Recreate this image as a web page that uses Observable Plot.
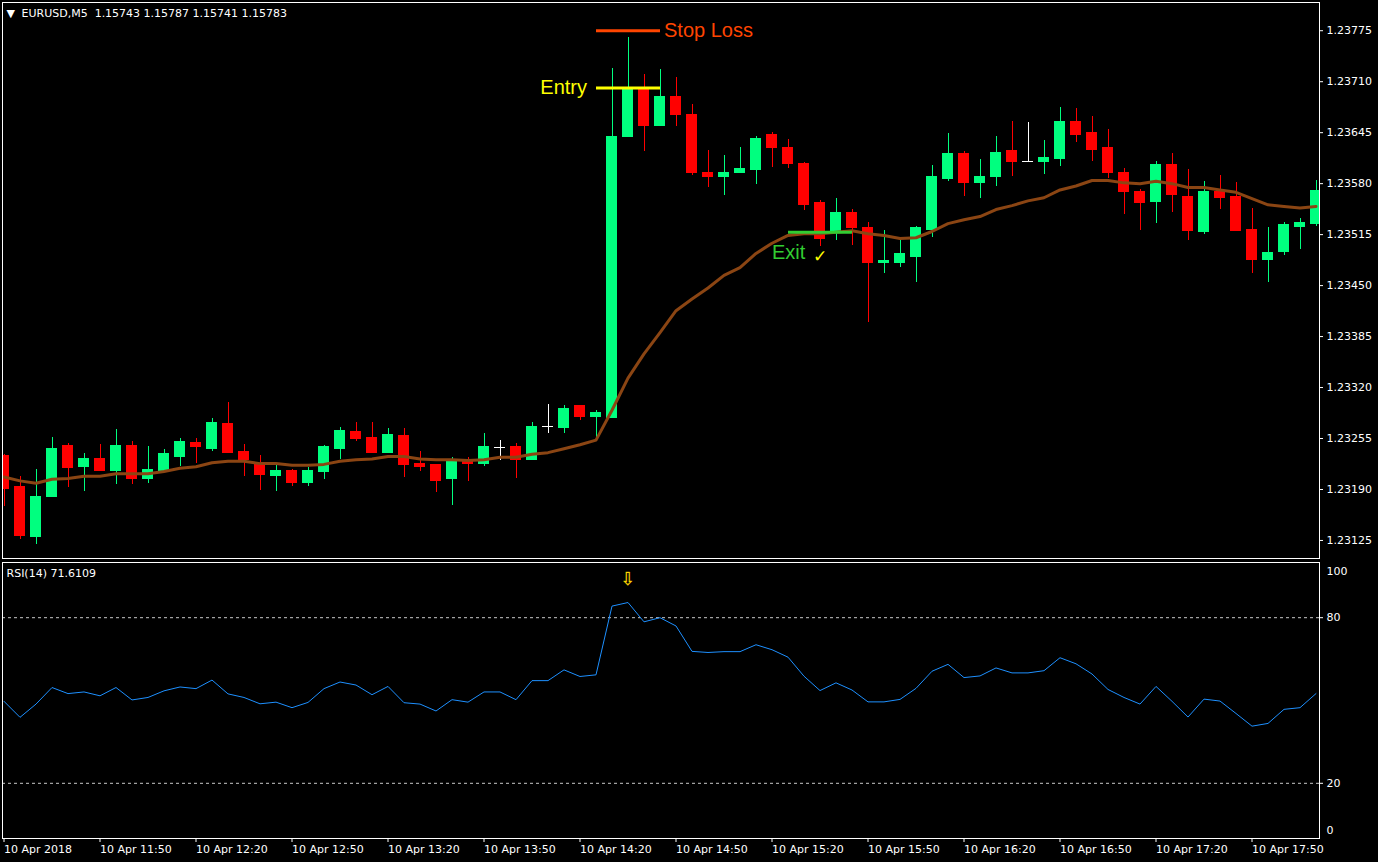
<!DOCTYPE html>
<html><head><meta charset="utf-8">
<script src="https://cdn.jsdelivr.net/npm/d3@7"></script>
<script src="https://cdn.jsdelivr.net/npm/@observablehq/plot@0.6"></script>
<style>
html,body{margin:0;padding:0;background:#000;}
#chart{width:1378px;height:862px;overflow:hidden;background:#000}
#chart svg{display:block}
</style></head><body><div id="chart"></div>
<script>
// ---- data (EURUSD M5, 10 Apr 2018, 11:20 - 18:10) ----
const open = [
1.23233,1.23193,1.23130,1.23180,1.23245,1.23219,1.23229,1.23214,1.23245,1.23204,
1.23214,1.23232,1.23249,1.23242,1.23274,1.23238,1.23223,1.23207,1.23214,1.23198,
1.23212,1.23242,1.23263,1.23256,1.23237,1.23258,1.23222,1.23221,1.23203,1.23228,
1.23222,1.23243,1.23244,1.23228,1.23270,1.23269,1.23296,1.23283,1.23281,1.23640,
1.23700,1.23654,1.23690,1.23668,1.23594,1.23589,1.23593,1.23598,1.23642,1.23626,
1.23605,1.23555,1.23520,1.23543,1.23523,1.23479,1.23479,1.23487,1.23521,1.23586,
1.23618,1.23581,1.23589,1.23621,1.23608,1.23608,1.23611,1.23659,1.23644,1.23625,
1.23593,1.23569,1.23556,1.23604,1.23563,1.23518,1.23569,1.23563,1.23521,1.23483,
1.23493,1.23525,1.23529];
const high = [
1.23235,1.23207,1.23215,1.23256,1.23249,1.23236,1.23247,1.23267,1.23251,1.23245,
1.23241,1.23255,1.23255,1.23281,1.23301,1.23247,1.23233,1.23221,1.23215,1.23218,
1.23246,1.23269,1.23275,1.23275,1.23268,1.23268,1.23238,1.23221,1.23231,1.23231,
1.23261,1.23253,1.23249,1.23275,1.23298,1.23297,1.23297,1.23291,1.23727,1.23767,
1.23719,1.23725,1.23715,1.23681,1.23622,1.23616,1.23626,1.23640,1.23645,1.23636,
1.23607,1.23558,1.23561,1.23547,1.23530,1.23520,1.23507,1.23525,1.23603,1.23644,
1.23621,1.23611,1.23640,1.23659,1.23658,1.23635,1.23677,1.23676,1.23665,1.23649,
1.23599,1.23572,1.23608,1.23618,1.23598,1.23583,1.23590,1.23581,1.23548,1.23524,
1.23530,1.23535,1.23584];
const low = [
1.23168,1.23126,1.23120,1.23180,1.23193,1.23187,1.23214,1.23196,1.23196,1.23198,
1.23214,1.23219,1.23223,1.23238,1.23236,1.23207,1.23189,1.23187,1.23194,1.23194,
1.23203,1.23228,1.23251,1.23237,1.23237,1.23205,1.23213,1.23186,1.23170,1.23200,
1.23219,1.23227,1.23204,1.23228,1.23261,1.23261,1.23278,1.23256,1.23281,1.23640,
1.23621,1.23654,1.23653,1.23590,1.23575,1.23565,1.23593,1.23579,1.23600,1.23599,
1.23546,1.23500,1.23507,1.23501,1.23403,1.23465,1.23473,1.23454,1.23511,1.23583,
1.23563,1.23561,1.23576,1.23589,1.23608,1.23592,1.23602,1.23632,1.23608,1.23586,
1.23541,1.23520,1.23529,1.23543,1.23507,1.23515,1.23547,1.23519,1.23465,1.23454,
1.23488,1.23496,1.23525];
const close = [
1.23191,1.23131,1.23180,1.23241,1.23218,1.23229,1.23214,1.23246,1.23204,1.23215,
1.23235,1.23250,1.23244,1.23275,1.23237,1.23227,1.23208,1.23214,1.23198,1.23213,
1.23244,1.23264,1.23255,1.23237,1.23259,1.23221,1.23219,1.23201,1.23226,1.23222,
1.23244,1.23243,1.23228,1.23270,1.23270,1.23293,1.23283,1.23287,1.23640,1.23700,
1.23653,1.23690,1.23667,1.23593,1.23589,1.23594,1.23599,1.23637,1.23625,1.23605,
1.23553,1.23510,1.23543,1.23523,1.23479,1.23481,1.23490,1.23524,1.23589,1.23618,
1.23581,1.23589,1.23619,1.23607,1.23608,1.23613,1.23658,1.23642,1.23623,1.23593,
1.23569,1.23555,1.23604,1.23566,1.23519,1.23569,1.23562,1.23520,1.23483,1.23491,
1.23527,1.23530,1.23571];
const ma = [
1.23206,1.23201,1.23198,1.23203,1.23204,1.23207,1.23207,1.23210,1.23210,1.23210,
1.23213,1.23217,1.23219,1.23224,1.23226,1.23226,1.23223,1.23223,1.23221,1.23221,
1.23222,1.23226,1.23228,1.23229,1.23232,1.23232,1.23229,1.23228,1.23228,1.23227,
1.23228,1.23231,1.23231,1.23235,1.23237,1.23242,1.23247,1.23253,1.23291,1.23332,
1.23363,1.23390,1.23418,1.23433,1.23447,1.23463,1.23473,1.23491,1.23504,1.23514,
1.23516,1.23516,1.23518,1.23520,1.23516,1.23514,1.23510,1.23511,1.23519,1.23529,
1.23534,1.23538,1.23547,1.23552,1.23558,1.23562,1.23572,1.23577,1.23584,1.23584,
1.23581,1.23580,1.23583,1.23580,1.23575,1.23575,1.23572,1.23569,1.23561,1.23553,
1.23551,1.23549,1.23551];
const rsi = [
49.7,43.9,48.7,54.7,52.5,53.1,51.7,54.7,50.2,51.1,
53.5,54.9,54.3,57.4,52.4,51.1,48.8,49.4,47.4,49.3,
54.3,56.7,55.6,52.1,55.1,49.2,48.7,46.2,50.3,49.4,
53.1,53.1,50.3,57.2,57.2,61.1,58.7,59.3,84.2,85.5,
78.5,80.0,77.0,67.8,67.4,67.7,67.7,70.2,68.4,65.7,
58.8,53.6,56.4,53.8,49.5,49.5,50.4,54.4,60.6,63.1,
58.3,58.9,61.8,60.0,60.0,60.8,65.5,63.3,59.6,54.0,
51.1,48.7,55.1,49.7,44.0,50.5,49.8,45.3,40.7,41.7,
46.8,47.4,52.5];
const priceTicks = [1.23125,1.23190,1.23255,1.23320,1.23385,1.23450,1.23515,1.23580,1.23645,1.23710,1.23775];
const rsiLevels = [20, 80];
const timeTicks = [0,6,12,18,24,30,36,42,48,54,60,66,72,78];
const timeLabels = ["10 Apr 2018","10 Apr 11:50","10 Apr 12:20","10 Apr 12:50","10 Apr 13:20","10 Apr 13:50","10 Apr 14:20",
  "10 Apr 14:50","10 Apr 15:20","10 Apr 15:50","10 Apr 16:20","10 Apr 16:50","10 Apr 17:20","10 Apr 17:50"];
const tradeLevels = [
  {label:"Stop Loss", price:1.23775, from:37, to:41},
  {label:"Entry", price:1.23702, from:37, to:41},
  {label:"Exit", price:1.23518, from:49, to:53}
];
const exitMark = {bar:48, price:1.23492, checkBar:51, checkPrice:1.23487};
const rsiSignal = {bar:39, value:94};
const headerText = "EURUSD,M5\u00a0\u00a01.15743 1.15787 1.15741 1.15783";
const rsiHeader = "RSI(14) 71.6109";

// ---- build ----
const bars = open.map((o,i)=>({i, open:o, high:high[i], low:low[i], close:close[i], ma:ma[i], rsi:rsi[i]}));
const colorOf = d => d.close > d.open ? "#00FF7F" : (d.close < d.open ? "#FF0000" : "#FFFFFF");
const levelColor = {"Stop Loss":"#FF4500", "Entry":"#FFFF00", "Exit":"#32CD32"};
const xDomain = [-0.09375, 82.21875];
const W = 1378;
const baseStyle = {background:"#000", color:"#fff", fontFamily:"DejaVu Sans", fontSize:"11px"};

const main = Plot.plot({
  width:W, height:560, marginLeft:2, marginRight:59, marginTop:2, marginBottom:2,
  style:baseStyle,
  color:{type:"identity"},
  x:{domain:xDomain, axis:null},
  y:{domain:[1.23102,1.23811], axis:null},
  marks:[
    Plot.ruleX(bars, {x:"i", y1:"low", y2:"high", stroke:colorOf, clip:true, shapeRendering:"crispEdges"}),
    Plot.rect(bars, {x1:d=>d.i-0.34, x2:d=>d.i+0.34, y1:"open", y2:"close", fill:colorOf, insetTop:-0.5, insetBottom:-0.5, clip:true, shapeRendering:"crispEdges"}),
    Plot.line(bars, {x:"i", y:"ma", stroke:"#8B4513", strokeWidth:3, clip:true}),
    Plot.link(tradeLevels, {x1:"from", x2:"to", y1:"price", y2:"price", stroke:d=>levelColor[d.label], strokeWidth:3}),
    Plot.text(tradeLevels.filter(d=>d.label==="Stop Loss"), {x:"to", y:"price", text:"label", dx:4, textAnchor:"start", fill:levelColor["Stop Loss"], fontSize:20, fontFamily:"Liberation Sans"}),
    Plot.text(tradeLevels.filter(d=>d.label==="Entry"), {x:"from", y:"price", text:"label", dx:-9, textAnchor:"end", fill:levelColor["Entry"], fontSize:20, fontFamily:"Liberation Sans"}),
    Plot.text([exitMark], {x:"bar", y:"price", text:()=>"Exit", textAnchor:"start", fill:"#32CD32", fontSize:20, fontFamily:"Liberation Sans"}),
    Plot.text([exitMark], {x:"checkBar", y:"checkPrice", text:()=>"\u2713", fill:"#FFFF00", fontSize:17, fontWeight:"bold", fontFamily:"DejaVu Sans"}),
    Plot.frame({stroke:"#fff", shapeRendering:"crispEdges"}),
    Plot.axisY(priceTicks, {anchor:"right", tickSize:3, tickPadding:4, tickFormat:d=>d.toFixed(5), fill:"#fff", stroke:"#fff"}),
    Plot.text(["\u25BC"], {frameAnchor:"top-left", dx:4, dy:11, lineAnchor:"middle", textAnchor:"start", fill:"#fff", fontSize:11}),
    Plot.text([headerText], {frameAnchor:"top-left", dx:19, dy:11, lineAnchor:"middle", textAnchor:"start", fill:"#fff"})
  ]
});

const lower = Plot.plot({
  width:W, height:302, marginLeft:2, marginRight:59, marginTop:2, marginBottom:24,
  style:baseStyle,
  x:{domain:xDomain, axis:null},
  y:{domain:[0,100], axis:null},
  marks:[
    Plot.ruleY(rsiLevels, {stroke:"#c8c8c8", strokeDasharray:"3,3"}),
    Plot.line(bars, {x:"i", y:"rsi", stroke:"#1E90FF", strokeWidth:1}),
    Plot.text([rsiSignal], {x:"bar", y:"value", text:()=>"\u21E9", fill:"#FFD700", stroke:"#C8A000", strokeWidth:0.3, fontSize:18, fontFamily:"DejaVu Sans"}),
    Plot.frame({stroke:"#fff", shapeRendering:"crispEdges"}),
    Plot.axisY(rsiLevels, {anchor:"right", tickSize:3, tickPadding:4, fill:"#fff", stroke:"#fff"}),
    Plot.text([100], {y:d=>d, frameAnchor:"right", dx:7, dy:9, textAnchor:"start", fill:"#fff"}),
    Plot.text([0], {y:d=>d, frameAnchor:"right", dx:7, dy:-8, textAnchor:"start", fill:"#fff"}),
    Plot.axisX(timeTicks, {anchor:"bottom", tickSize:4, tickPadding:3, textAnchor:"start", fill:"#fff", stroke:"#fff",
      tickFormat:d=>timeLabels[timeTicks.indexOf(d)]}),
    Plot.text([rsiHeader], {frameAnchor:"top-left", dx:4, dy:11, lineAnchor:"middle", textAnchor:"start", fill:"#fff"})
  ]
});

const root = document.getElementById("chart");
root.appendChild(main);
root.appendChild(lower);
</script></body></html>
